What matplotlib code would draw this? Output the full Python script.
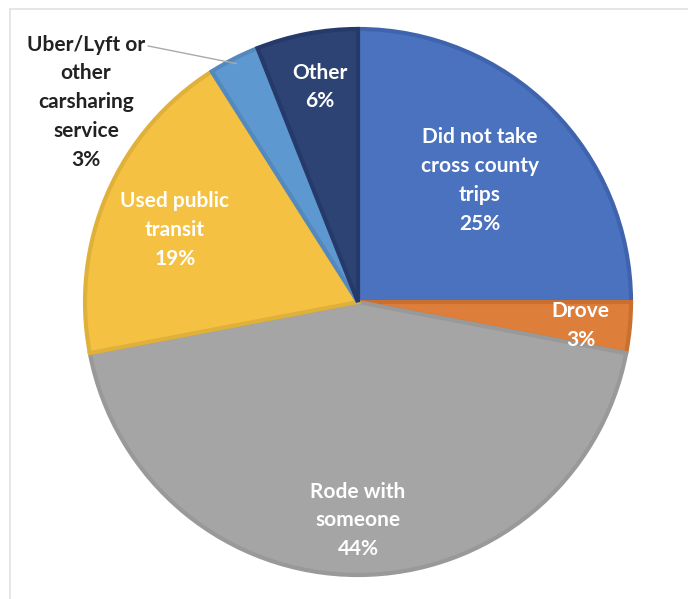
import matplotlib
matplotlib.use('Agg')
import numpy as np
import matplotlib.pyplot as plt
from matplotlib.lines import Line2D

plt.rcParams['font.family'] = ['Lato', 'DejaVu Sans']

labels = ['Did not take\ncross county\ntrips', 'Drove', 'Rode with\nsomeone',
          'Used public\ntransit', 'Uber/Lyft or\nother\ncarsharing\nservice', 'Other']
values = [25, 3, 44, 19, 3, 6]
colors = ['#4A72BE', '#DD7E3B', '#A5A5A5', '#F4C142', '#5E98D0', '#2D4373']
edges = ['#3F64AD', '#C96F30', '#999999', '#E0B13A', '#5489BE', '#25396A']

# label distance (in radius units) and angle nudge, per slice
lab_dist = [0.63, 0.82, 0.80, 0.72, None, 0.80]
lab_nudge = [0, -0.6, 0, 2, 0, -0.8]

fig = plt.figure(figsize=(6.88, 5.99), dpi=100)
r = 273
cx, cy = 358, 302
W, H = 688, 599
ax = fig.add_axes([(cx - r) / W, (H - cy - r) / H, 2 * r / W, 2 * r / H])

wedges, _ = ax.pie(values, colors=colors, startangle=90, counterclock=False,
                   radius=1, wedgeprops=dict(linewidth=3))
for w, ec in zip(wedges, edges):
    w.set_edgecolor(ec)
    w.set_joinstyle('miter')

ax.set_xlim(-1, 1)
ax.set_ylim(-1, 1)
ax.set_aspect('equal')
ax.axis('off')

for i, w in enumerate(wedges):
    pct = '%d%%' % values[i]
    if lab_dist[i] is None:
        continue
    ang = np.deg2rad((w.theta1 + w.theta2) / 2 + lab_nudge[i])
    x = lab_dist[i] * np.cos(ang)
    y = lab_dist[i] * np.sin(ang)
    ax.text(x, y, labels[i] + '\n' + pct, ha='center', va='center',
            color='white', fontsize=15, fontweight='bold', linespacing=1.55)

# outside label for the Uber slice with a leader line
w = wedges[4]
ang = np.deg2rad((w.theta1 + w.theta2) / 2)
tip = (0.98 * np.cos(ang), 0.98 * np.sin(ang))
ax.annotate(labels[4] + '\n' + '%d%%' % values[4], xy=tip, xytext=(-0.996, 0.732),
            ha='center', va='center', color='#222222', fontsize=15,
            fontweight='bold', linespacing=1.55, annotation_clip=False,
            arrowprops=dict(arrowstyle='-', color='#AAAAAA', lw=1,
                            relpos=(1.0, 0.92), shrinkA=0, shrinkB=0))

# light frame on top and left
fig.add_artist(Line2D([10 / W, 1], [1 - 9 / H, 1 - 9 / H], color='#E2E2E2', lw=1.2))
fig.add_artist(Line2D([10 / W, 10 / W], [0, 1 - 9 / H], color='#E2E2E2', lw=1.2))

plt.savefig('out.png', dpi=100)
